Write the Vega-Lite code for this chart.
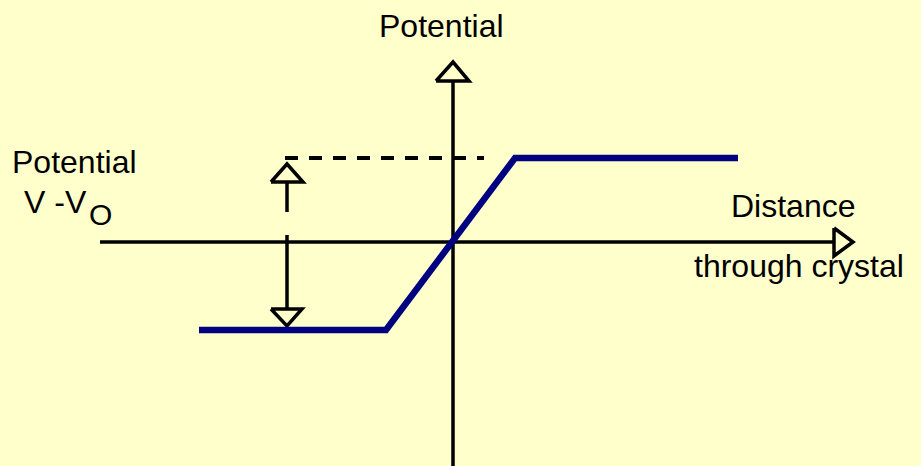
{
  "$schema": "https://vega.github.io/schema/vega-lite/v6.json",
  "width": 921,
  "height": 466,
  "autosize": {"type": "none"},
  "padding": 0,
  "background": "#FFFFCC",
  "config": {"view": {"stroke": null}},
  "layer": [
    {
      "data": {"values": [
        {"seg": "vaxis", "ord": 1, "x": 453, "y": 81},
        {"seg": "vaxis", "ord": 2, "x": 453, "y": 466},
        {"seg": "haxis", "ord": 1, "x": 100, "y": 242},
        {"seg": "haxis", "ord": 2, "x": 834, "y": 242},
        {"seg": "topArrow", "ord": 1, "x": 436, "y": 81},
        {"seg": "topArrow", "ord": 2, "x": 469, "y": 81},
        {"seg": "topArrow", "ord": 3, "x": 453, "y": 62},
        {"seg": "topArrow", "ord": 4, "x": 436, "y": 81},
        {"seg": "rightArrow", "ord": 1, "x": 834, "y": 228},
        {"seg": "rightArrow", "ord": 2, "x": 834, "y": 256},
        {"seg": "rightArrow", "ord": 3, "x": 853, "y": 242},
        {"seg": "rightArrow", "ord": 4, "x": 834, "y": 228},
        {"seg": "upHead", "ord": 1, "x": 271, "y": 182},
        {"seg": "upHead", "ord": 2, "x": 303, "y": 182},
        {"seg": "upHead", "ord": 3, "x": 287, "y": 164},
        {"seg": "upHead", "ord": 4, "x": 271, "y": 182},
        {"seg": "upShaft", "ord": 1, "x": 287, "y": 182},
        {"seg": "upShaft", "ord": 2, "x": 287, "y": 212},
        {"seg": "downShaft", "ord": 1, "x": 287, "y": 235},
        {"seg": "downShaft", "ord": 2, "x": 287, "y": 309},
        {"seg": "downHead", "ord": 1, "x": 271, "y": 309},
        {"seg": "downHead", "ord": 2, "x": 302, "y": 309},
        {"seg": "downHead", "ord": 3, "x": 287, "y": 326},
        {"seg": "downHead", "ord": 4, "x": 271, "y": 309}
      ]},
      "mark": {"type": "line", "color": "#000000", "strokeWidth": 3.5, "strokeJoin": "miter"},
      "encoding": {
        "x": {"field": "x", "type": "quantitative", "scale": {"domain": [0, 921], "nice": false, "zero": false}, "axis": null},
        "y": {"field": "y", "type": "quantitative", "scale": {"domain": [0, 466], "nice": false, "zero": false, "reverse": true}, "axis": null},
        "detail": {"field": "seg"},
        "order": {"field": "ord"}
      }
    },
    {
      "data": {"values": [
        {"x": 285, "y": 158},
        {"x": 484, "y": 158}
      ]},
      "mark": {"type": "line", "color": "#000000", "strokeWidth": 4, "strokeDash": [13, 11]},
      "encoding": {
        "x": {"field": "x", "type": "quantitative"},
        "y": {"field": "y", "type": "quantitative"}
      }
    },
    {
      "data": {"values": [
        {"ord": 1, "x": 199, "y": 330},
        {"ord": 2, "x": 386, "y": 330},
        {"ord": 3, "x": 515, "y": 158},
        {"ord": 4, "x": 738, "y": 158}
      ]},
      "mark": {"type": "line", "color": "#000080", "strokeWidth": 6.5, "strokeJoin": "miter"},
      "encoding": {
        "x": {"field": "x", "type": "quantitative"},
        "y": {"field": "y", "type": "quantitative"},
        "order": {"field": "ord"}
      }
    },
    {
      "data": {"values": [
        {"label": "Potential", "x": 379, "y": 37},
        {"label": "Potential", "x": 12, "y": 173},
        {"label": "V -V", "x": 24, "y": 213},
        {"label": "Distance", "x": 731, "y": 217},
        {"label": "through crystal", "x": 694, "y": 277}
      ]},
      "mark": {"type": "text", "align": "left", "baseline": "alphabetic", "font": "Liberation Sans", "fontSize": 32, "color": "#000000"},
      "encoding": {
        "x": {"field": "x", "type": "quantitative"},
        "y": {"field": "y", "type": "quantitative"},
        "text": {"field": "label"}
      }
    },
    {
      "data": {"values": [
        {"label": "O", "x": 89, "y": 225}
      ]},
      "mark": {"type": "text", "align": "left", "baseline": "alphabetic", "font": "Liberation Sans", "fontSize": 30, "color": "#000000"},
      "encoding": {
        "x": {"field": "x", "type": "quantitative"},
        "y": {"field": "y", "type": "quantitative"},
        "text": {"field": "label"}
      }
    }
  ]
}
